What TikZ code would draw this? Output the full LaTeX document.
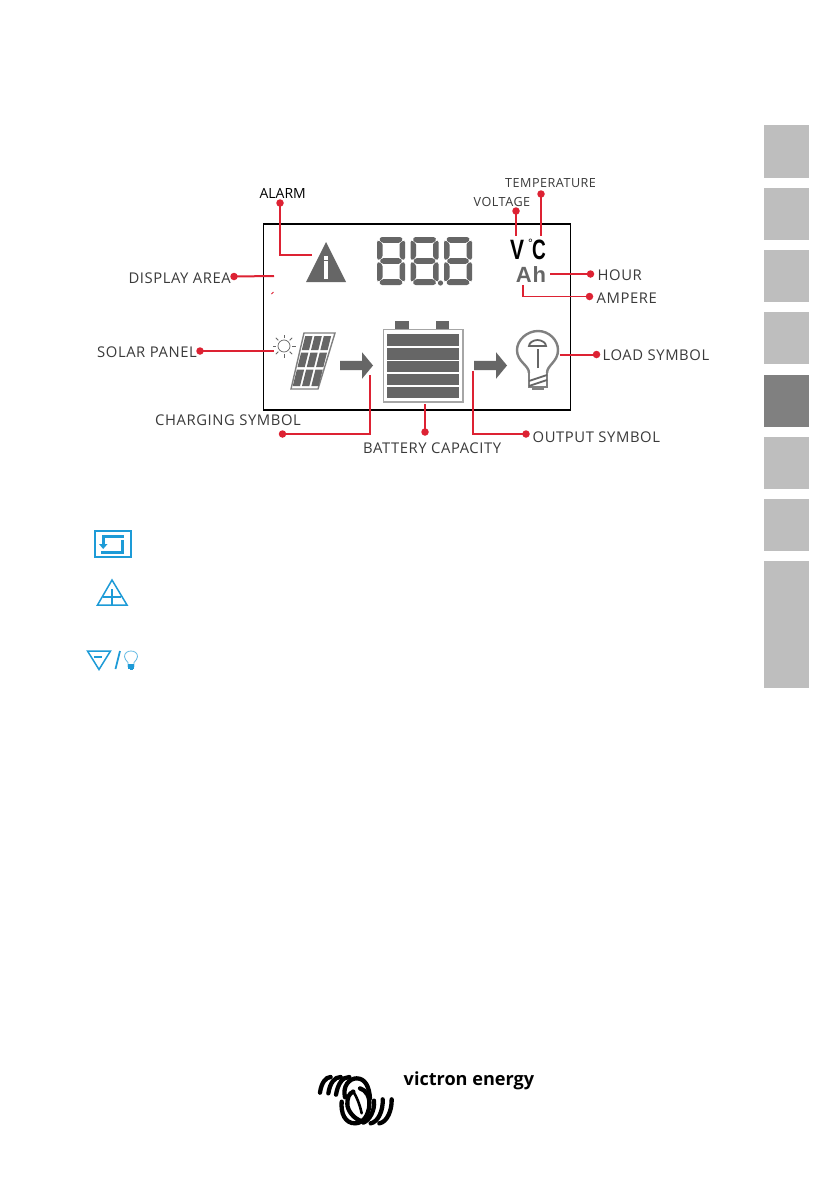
\documentclass[tikz,border=0pt]{standalone}
\usepackage{fontspec}
\setmainfont{Open Sans}
\newfontfamily\lblfont[LetterSpace=4.0]{Open Sans}
\newfontfamily\boldfont{Liberation Sans}
\newfontfamily\logofont{Open Sans}
\definecolor{lcdred}{HTML}{DD2233}
\definecolor{lcdgray}{HTML}{666666}
\definecolor{lblgray}{HTML}{3A3A3A}
\definecolor{tabl}{HTML}{BEBEBE}
\definecolor{tabd}{HTML}{808080}
\definecolor{cyanicon}{HTML}{1D9BD7}
\tikzset{
  lbl/.style={font=\lblfont\fontsize{14.8}{14.8}\selectfont,text=lblgray,inner sep=0pt},
  smalllbl/.style={font=\lblfont\fontsize{12.6}{12.6}\selectfont,text=lblgray,inner sep=0pt},
  dot/.style={circle,fill=lcdred,draw=none,minimum size=7.5pt,inner sep=0pt},
  conn/.style={draw=lcdred,line width=1.5pt},
  tab/.style={fill=tabl,draw=none},
  seg/.style={fill=lcdgray,draw=none,rounded corners=1.2pt},
  segdigit/.pic={
    \fill[seg] (4,0) -- (24,0) -- (26,2.5) -- (23,5.8) -- (5,5.8) -- (2,2.5) -- cycle;
    \fill[seg] (5,21.2) -- (23,21.2) -- (25.5,24) -- (23,26.8) -- (5,26.8) -- (2.5,24) -- cycle;
    \fill[seg] (5,42.2) -- (23,42.2) -- (26,45.5) -- (24,48) -- (4,48) -- (2,45.5) -- cycle;
    \fill[seg] (0,4) -- (1.5,3.5) -- (5.5,6.5) -- (5.5,20) -- (2,23.2) -- (0,22) -- cycle;
    \fill[seg] (0,26) -- (2,24.8) -- (5.5,28) -- (5.5,41.5) -- (1.5,44.5) -- (0,44) -- cycle;
    \fill[seg] (28,4) -- (26.5,3.5) -- (22.5,6.5) -- (22.5,20) -- (26,23.2) -- (28,22) -- cycle;
    \fill[seg] (28,26) -- (26,24.8) -- (22.5,28) -- (22.5,41.5) -- (26.5,44.5) -- (28,44) -- cycle;
  },
  arrowicon/.pic={
    \fill[lcdgray] (0,-4.7) -- (22,-4.7) -- (22,-13.3) -- (33,0) -- (22,13.3) -- (22,4.7) -- (0,4.7) -- cycle;
  }
}
\begin{document}
\begin{tikzpicture}[x=1pt,y=-1pt]
\useasboundingbox (0,0) rectangle (839,1191);
\fill[white] (0,0) rectangle (839,1191);

% side tabs
\fill[tab] (764,125) rectangle (809,178);
\fill[tab] (764,188) rectangle (809,240);
\fill[tab] (764,250) rectangle (809,302);
\fill[tab] (764,312) rectangle (809,364);
\fill[tabd] (764,375) rectangle (809,427);
\fill[tab] (764,437) rectangle (809,489);
\fill[tab] (764,499) rectangle (809,551);
\fill[tab] (764,561) rectangle (809,688);

% display frame
\node[draw=black,line width=1.5pt,minimum width=307pt,minimum height=186pt,inner sep=0pt] (frame) at (417.2,317) {};

% alarm icon
\fill[lcdgray] (326,242) -- (346,282) -- (306,282) -- cycle;
\fill[white] (323.5,261) rectangle (328,279);
\fill[white] (323.5,256) rectangle (328,259.5);

% digits
\pic at (377,237) {segdigit};
\pic at (410.5,237) {segdigit};
\pic at (444,237) {segdigit};
\fill[lcdgray] (440.5,283) circle (2.6pt);

% units
\node[inner sep=0pt,text=black] (vunit) at (517,250) {\boldfont\bfseries\fontsize{28}{28}\selectfont\scalebox{.75}[1]{V}};
\node[inner sep=0pt,text=black] (deg) at (530.5,243) {\fontsize{12}{12}\selectfont\boldfont °};
\node[inner sep=0pt,text=black] (cunit) at (539,250) {\boldfont\bfseries\fontsize{28}{28}\selectfont\scalebox{.68}[1]{C}};
\node[inner sep=0pt,text=lcdgray] (ah) at (531,275) {\boldfont\bfseries\fontsize{22}{22}\selectfont A\kern1pt h};

% solar
\draw[lcdgray,line width=.7pt] (284,346) circle (6pt);
\foreach \a in {0,45,...,315}
  \draw[lcdgray,line width=.8pt] ({284+8*cos(\a)},{346+8*sin(\a)}) -- ({284+11.5*cos(\a)},{346+11.5*sin(\a)});
\draw[gray,line width=1.4pt,fill=white] (304,333) -- (335,333) -- (318,389) -- (291,389) -- cycle;
\foreach \r/\ya/\yb in {0/336/350,1/352.5/367,2/369.5/386}{
  \foreach \c in {0,1,2}{
    \pgfmathsetmacro{\xat}{305.5-(\ya-335)*0.25+\c*9.3}
    \pgfmathsetmacro{\xab}{305.5-(\yb-335)*0.25+\c*9.3}
    \fill[lcdgray] (\xat,\ya) -- ({\xat+7.3},\ya) -- ({\xab+7.3},\yb) -- (\xab,\yb) -- cycle;
  }
}

% arrows
\pic at (340,365.5) {arrowicon};
\pic at (474,365.5) {arrowicon};

% battery
\draw[draw=gray!70,line width=1.6pt] (383.5,329.5) rectangle (463,402);
\fill[lcdgray] (395,321) rectangle (409,329);
\fill[lcdgray] (436,321) rectangle (449,329);
\fill[lcdgray] (387,334) rectangle (459,346);
\fill[lcdgray] (387,348) rectangle (459,359.5);
\fill[lcdgray] (387,361) rectangle (459,372);
\fill[lcdgray] (387,374) rectangle (459,385);
\fill[lcdgray] (387,387) rectangle (459,398);

% load bulb
\draw[gray,line width=2.4pt] (529,373) .. controls (529,365) and (517,362) .. (517,350) .. controls (517,340) and (527,331) .. (538,331) .. controls (549,331) and (558,340) .. (558,350) .. controls (558,362) and (547,365) .. (547,373);
\draw[gray,line width=2.4pt] (529,373) -- (529,387) -- (547,387) -- (547,373);
\fill[gray] (532,387) rectangle (544,389.5);
\draw[lcdgray,line width=1.8pt] (529,381) -- (547,375);
\draw[lcdgray,line width=1.8pt] (529,386) -- (547,380);
\draw[lcdgray,line width=1.4pt] (538,368) -- (538,349);
\draw[lcdgray,line width=1.8pt] (529,346) .. controls (529,343) and (533,340) .. (537.5,340) .. controls (542,340) and (546,343) .. (546,346) -- (538,346) -- cycle;

% labels
\node[lbl,text=black,font=\logofont\fontsize{14}{14}\selectfont] (lalarm) at (282.7,193) {ALARM};
\node[lbl,anchor=east] (ldisplay) at (231,278) {DISPLAY AREA};
\node[lbl,anchor=east] (lsolar) at (197,352.5) {SOLAR PANEL};
\node[lbl,anchor=west] (lcharge) at (155,420.5) {CHARGING SYMBOL};
\node[lbl,anchor=west] (lbatt) at (363,448) {BATTERY CAPACITY};
\node[lbl,anchor=west] (loutput) at (532.5,437) {OUTPUT SYMBOL};
\node[lbl,anchor=west] (lload) at (602.5,355.5) {LOAD SYMBOL};
\node[lbl,anchor=west] (lhour) at (597.5,275) {HOUR};
\node[lbl,anchor=west] (lamp) at (596.5,298) {AMPERE};
\node[smalllbl,anchor=west] (lvolt) at (473.5,201.5) {VOLTAGE};
\node[smalllbl,anchor=west] (ltemp) at (505,183.5) {TEMPERATURE};

% dots
\node[dot] (dalarm) at (280,203) {};
\node[dot] (ddisplay) at (234,276.5) {};
\node[dot] (dsolar) at (200,351) {};
\node[dot] (dcharge) at (282.5,434) {};
\node[dot] (dbatt) at (425,432) {};
\node[dot] (doutput) at (526,434) {};
\node[dot] (dload) at (596.5,354.5) {};
\node[dot] (dhour) at (590.5,274) {};
\node[dot] (damp) at (589.5,296.5) {};
\node[dot] (dvolt) at (516,211) {};
\node[dot] (dtemp) at (541,194) {};

% connector ends
\coordinate (ealarm) at (312,255);
\coordinate (edisplay) at (274,276);
\coordinate (esolar) at (274,351);
\coordinate (echarge) at (370,375);
\coordinate (ebatt) at (425,404);
\coordinate (eoutput) at (473,371);
\coordinate (eload) at (560,354.5);
\coordinate (ehour) at (550,274);
\coordinate (eamp) at (523,285);
\coordinate (evolt) at (516,236);
\coordinate (etemp) at (541,236);

\draw[conn] (dalarm.center) |- (ealarm);
\draw[conn,line width=2pt] (ddisplay.center) -- (edisplay);
\draw[conn,line width=1.2pt] (dsolar.center) -- (esolar);
\draw[conn] (dcharge.center) -| (echarge);
\draw[conn] (dbatt.center) -- (ebatt);
\draw[conn] (doutput.center) -| (eoutput);
\draw[conn,line width=2pt] (dload.center) -- (eload);
\draw[conn] (dhour.center) -- (ehour);
\draw[conn] (damp.center) -| (eamp);
\draw[conn] (dvolt.center) -- (evolt);
\draw[conn] (dtemp.center) -- (etemp);
\draw[lcdred,line width=1pt] (271.5,294) -- (273.5,292);

% lower icons
\draw[cyanicon,line width=2pt] (95,530.7) rectangle (130.5,557);
\fill[cyanicon] (101.5,534.5) rectangle (123.5,538);
\fill[cyanicon] (101,550.5) rectangle (124,554);
\fill[cyanicon] (120.5,540) rectangle (124,553);
\fill[cyanicon] (101.5,537) rectangle (104.5,545);
\fill[cyanicon] (99,544) -- (107.5,544) -- (103.2,549) -- cycle;
\draw[cyanicon,line width=1.5pt,line join=miter] (112,580) -- (127,605) -- (97.5,605) -- cycle;
\draw[cyanicon,line width=2pt] (103,597) -- (121,597) (112,589) -- (112,605);
\draw[cyanicon,line width=1.5pt] (87.5,651) -- (110.5,651) -- (99,669.5) -- cycle;
\draw[cyanicon,line width=1.2pt] (94,657) -- (101.5,657);
\draw[cyanicon,line width=1.8pt] (115.5,669) -- (120,651);
\draw[cyanicon!70,line width=.8pt] (128,667) -- (128,662.5) .. controls (126,660) and (124.5,659) .. (124.5,656.5) .. controls (124.5,653) and (127.5,651) .. (131,651) .. controls (134.5,651) and (137.5,653) .. (137.5,656.5) .. controls (137.5,659) and (136,660) .. (134,662.5) -- (134,667);
\fill[cyanicon] (128,664) rectangle (134,669);
\fill[cyanicon] (129.5,669) rectangle (132.5,670);

% logo
\node[inner sep=0pt,anchor=west,text=black] (logotext) at (403.5,1081) {\logofont\bfseries\fontsize{18.1}{18.1}\selectfont victron energy};
\begin{scope}[shift={(310pt,-1060pt)},x=.3333pt,y=-.3333pt,line width=4.3pt,line cap=round]
  \draw (30,98) .. controls (34,68) and (48,51) .. (62,51);
  \draw (55,100) .. controls (60,68) and (74,51) .. (92,51);
  \draw (78,104) .. controls (84,70) and (98,51) .. (118,51);
  \draw (105,112) .. controls (97,78) and (118,55) .. (140,55) .. controls (165,55) and (178,80) .. (180,115);
  \draw (130,95) .. controls (116,100) and (112,115) .. (112,132) .. controls (112,150) and (130,178) .. (160,185);
  \draw (150,85) .. controls (168,90) and (180,110) .. (178,135) .. controls (176,165) and (160,190) .. (135,190) .. controls (105,190) and (92,160) .. (95,125);
  \draw[line width=2.6pt] (128,92) .. controls (140,110) and (150,135) .. (155,160);
  \draw (245,118) .. controls (246,150) and (232,186) .. (208,190);
  \draw (218,118) .. controls (220,150) and (205,186) .. (182,190);
  \draw (192,122) .. controls (195,150) and (180,180) .. (160,188);
\end{scope}
\end{tikzpicture}
\end{document}
